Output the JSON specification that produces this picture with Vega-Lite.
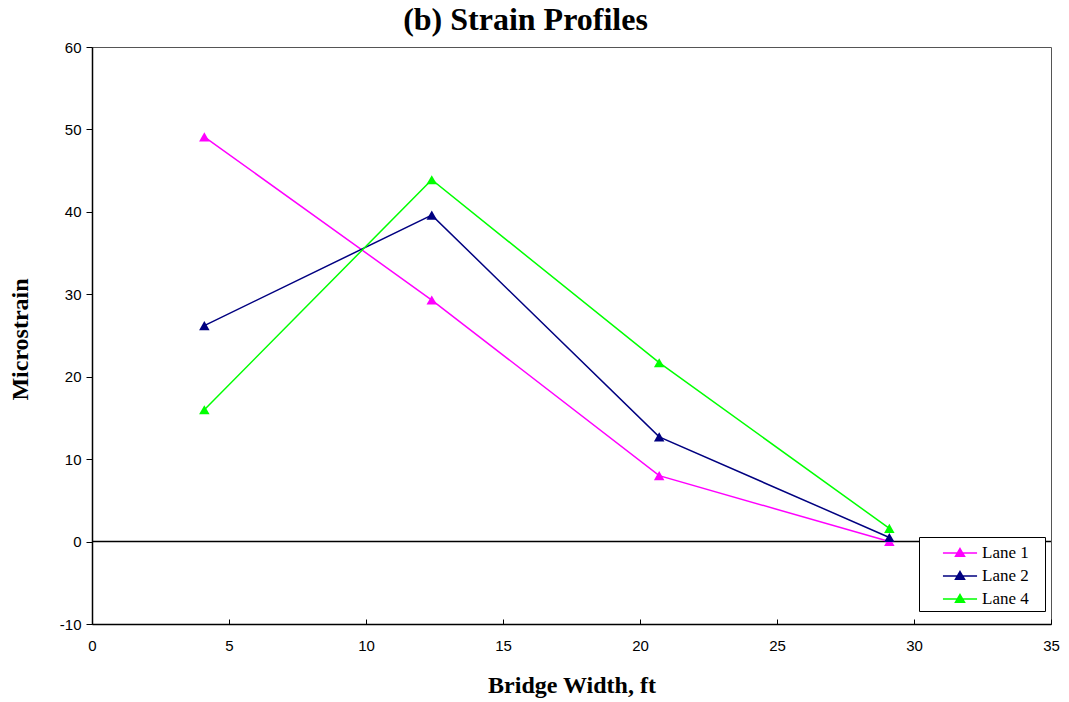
{
  "$schema": "https://vega.github.io/schema/vega-lite/v6.json",
  "width": 959,
  "height": 577,
  "autosize": "none",
  "padding": {"left": 92, "top": 47, "right": 18, "bottom": 78},
  "background": "white",
  "title": {"text": "(b) Strain Profiles", "font": "Liberation Serif", "fontSize": 32, "fontWeight": "bold", "color": "black", "offset": 3, "dx": -46},
  "config": {
    "view": {"stroke": "#555555", "strokeWidth": 1},
    "axis": {"grid": false, "domainColor": "black", "tickColor": "black", "labelFont": "Liberation Sans", "labelFontSize": 15, "labelColor": "black", "titleFont": "Liberation Serif", "titleFontSize": 24, "titleFontWeight": "bold", "titleColor": "black", "domainWidth": 1.5, "labelFlush": false, "labelOverlap": false}
  },
  "data": {"values": [
    {"x": 4.1, "y": 49.1, "lane": "Lane 1"},
    {"x": 12.4, "y": 29.3, "lane": "Lane 1"},
    {"x": 20.7, "y": 8.0, "lane": "Lane 1"},
    {"x": 29.1, "y": 0.0, "lane": "Lane 1"},
    {"x": 4.1, "y": 26.2, "lane": "Lane 2"},
    {"x": 12.4, "y": 39.6, "lane": "Lane 2"},
    {"x": 20.7, "y": 12.7, "lane": "Lane 2"},
    {"x": 29.1, "y": 0.5, "lane": "Lane 2"},
    {"x": 4.1, "y": 16.0, "lane": "Lane 4"},
    {"x": 12.4, "y": 43.9, "lane": "Lane 4"},
    {"x": 20.7, "y": 21.7, "lane": "Lane 4"},
    {"x": 29.1, "y": 1.6, "lane": "Lane 4"}
  ]},
  "layer": [
    {
      "data": {"values": [{"z": 0}]},
      "mark": {"type": "rule", "color": "black", "strokeWidth": 1.5},
      "encoding": {"y": {"field": "z", "type": "quantitative", "scale": {"domain": [-10, 60]}}}
    },
    {
      "mark": {"type": "line", "strokeWidth": 1.5},
      "encoding": {
        "x": {"field": "x", "type": "quantitative", "scale": {"domain": [0, 35]}, "axis": {"values": [0,5,10,15,20,25,30,35], "title": "Bridge Width, ft", "titleBaseline": "middle", "titleY": 61, "tickSize": -5, "labelPadding": 19}},
        "y": {"field": "y", "type": "quantitative", "scale": {"domain": [-10, 60]}, "axis": {"values": [-10,0,10,20,30,40,50,60], "labelExpr": "toString(datum.value)", "title": "Microstrain", "titleBaseline": "middle", "titleAlign": "center", "titleAngle": -90, "titleX": -72, "titleY": 292, "tickSize": 6, "labelPadding": 5}},
        "color": {"field": "lane", "type": "nominal", "scale": {"domain": ["Lane 1", "Lane 2", "Lane 4"], "range": ["#FF00FF", "#000080", "#00FF00"]},
          "legend": {"title": null, "orient": "none", "legendX": 827, "legendY": 490, "fillColor": "white", "strokeColor": "black", "padding": 4, "labelFont": "Liberation Serif", "labelFontSize": 17, "labelColor": "black", "labelExpr": "datum.label + '\u2800'", "symbolType": "M-1.55,0H1.55M0,-0.4L0.41,0.3H-0.41Z", "symbolSize": 484, "symbolStrokeWidth": 1.5, "symbolOffset": 25, "rowPadding": 3, "labelOffset": 10}}
      }
    },
    {
      "mark": {"type": "point", "shape": "triangle-up", "filled": true, "size": 110, "opacity": 1},
      "encoding": {
        "x": {"field": "x", "type": "quantitative"},
        "y": {"field": "y", "type": "quantitative"},
        "color": {"field": "lane", "type": "nominal"}
      }
    }
  ]
}
